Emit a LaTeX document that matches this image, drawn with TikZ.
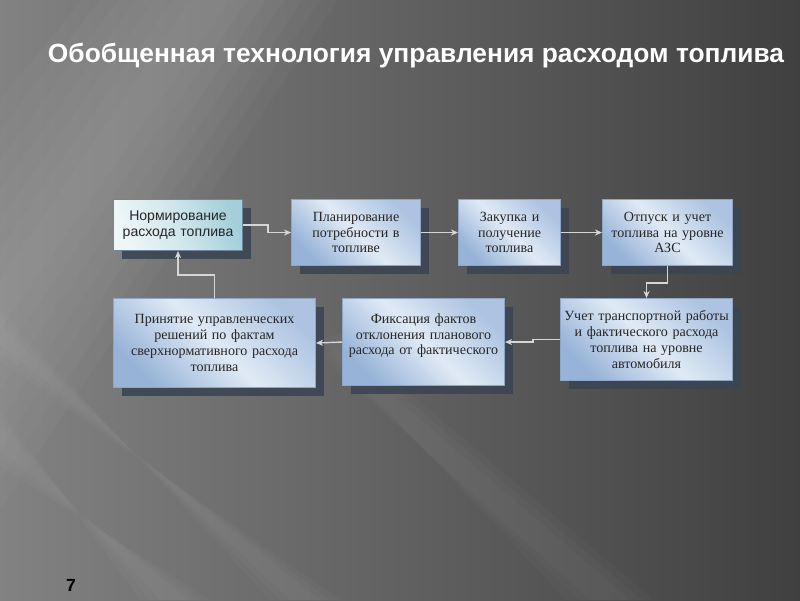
\documentclass[tikz,border=0pt]{standalone}
\usepackage{fontspec}
\setmainfont{Liberation Serif}
\newfontfamily\arialf{Liberation Sans}
\usetikzlibrary{arrows.meta,shadows}
\definecolor{bgdark}{HTML}{404040}
\definecolor{bgmid}{HTML}{5C5C5C}
\definecolor{bglight}{HTML}{828282}
\definecolor{boxblue}{HTML}{97B3D8}
\definecolor{boxpale}{HTML}{E0EAF5}
\definecolor{boxedge}{HTML}{8DA6C6}
\definecolor{boxshade}{HTML}{3B4552}
\definecolor{normpale}{HTML}{EEF6F8}
\definecolor{normteal}{HTML}{A4CFDA}
\definecolor{linkgray}{HTML}{D6D6D6}
\begin{document}
\begin{tikzpicture}[x=0.02cm,y=-0.02cm,
    box/.style={anchor=north west, draw=boxedge, line width=0.6pt,
      align=center, inner sep=2pt, font=\fontsize{8}{9}\selectfont, text=black!85,
      left color=boxblue, right color=boxblue!70!boxpale, middle color=boxpale,
      shading angle=135,
      drop shadow={shadow xshift=0.16cm, shadow yshift=-0.16cm, fill=boxshade, opacity=0.9}},
    link/.style={draw=linkgray, line width=0.8pt, -{Stealth[length=4pt,width=3.5pt]}}]
    % background of the slide
    \useasboundingbox (0,0) rectangle (800,600);
    \shade[left color=bglight, middle color=bgmid, right color=bgdark] (0,0) rectangle (800,600);
    \foreach \k in {0,...,6} {
        \fill[white, opacity=0.025] ({190-18*\k},0) -- ({230+18*\k},0) -- (0,{330+30*\k}) -- (0,{280-30*\k}) -- cycle;
    }
    \foreach \k in {0,1,2} {
        \fill[white, opacity=0.025] (0,{325-8*\k}) -- (0,{345+8*\k}) -- ({320+10*\k},600) -- ({290-10*\k},600) -- cycle;
        \fill[white, opacity=0.025] (0,{425-8*\k}) -- (0,{450+8*\k}) -- ({190+10*\k},600) -- ({160-10*\k},600) -- cycle;
        \fill[white, opacity=0.02] (320,{355-8*\k}) -- (340,{350-8*\k}) -- ({630+12*\k},600) -- ({590-12*\k},600) -- cycle;
    }
    \node[text=white, font=\arialf\bfseries\fontsize{15}{18}\selectfont] (title) at (416,56)
        {Обобщенная технология управления расходом топлива};
    % upper row
    \node[box, minimum width=2.58cm, minimum height=1.02cm, text width=2.4cm,
        font=\arialf\fontsize{8}{9}\selectfont, draw=boxedge!80!black,
        left color=normpale, right color=normteal, middle color=normpale!60!normteal, shading angle=110]
        (norm) at (113,199) {Нормирование\\расхода топлива};
    \node[box, minimum width=2.58cm, minimum height=1.32cm, text width=2.4cm]
        (plan) at (291,199) {Планирование\\потребности в\\топливе};
    \node[box, minimum width=2.04cm, minimum height=1.32cm, text width=1.9cm]
        (zakup) at (458,199) {Закупка и\\получение\\топлива};
    \node[box, minimum width=2.6cm, minimum height=1.32cm, text width=2.45cm]
        (otpusk) at (602,199) {Отпуск и учет\\топлива на уровне\\АЗС};
    % lower row
    \node[box, minimum width=3.44cm, minimum height=1.64cm, text width=3.3cm]
        (uchet) at (560,298) {Учет транспортной работы\\и фактического расхода\\топлива на уровне\\автомобиля};
    \node[box, minimum width=3.22cm, minimum height=1.74cm, text width=3.1cm]
        (fiks) at (342,298) {Фиксация фактов\\отклонения планового\\расхода от фактического\\\mbox{}};
    \node[box, minimum width=4.04cm, minimum height=1.78cm, text width=3.9cm]
        (prinyat) at (113,298) {Принятие управленческих\\решений по фактам\\сверхнормативного расхода\\топлива};
    % connectors
    \draw[link] (norm.east) -- ++(25,0) |- (plan.west);
    \draw[link] (plan.east) -- (zakup.west);
    \draw[link] (zakup.east) -- (otpusk.west);
    \draw[link] (otpusk.south) -- ++(0,17) -| (uchet.north);
    \draw[link] (uchet.west) -- ++(-27,0) |- (fiks.east);
    \draw[link] (fiks.west) -- (prinyat.east);
    \draw[link] (prinyat.north) -- ++(0,-23) -| (norm.south);
    \node[font=\arialf\bfseries\fontsize{10}{12}\selectfont] (pagenum) at (71,585) {7};
\end{tikzpicture}
\end{document}
